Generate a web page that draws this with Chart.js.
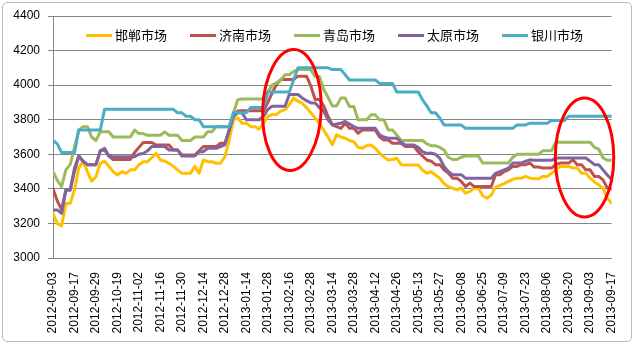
<!DOCTYPE html>
<html>
<head>
<meta charset="utf-8">
<script src="https://cdn.jsdelivr.net/npm/chart.js@4.4.0/dist/chart.umd.min.js"></script>
<style>
  html, body { margin: 0; padding: 0; background: #fff; }
  #wrap { position: relative; width: 640px; height: 346px; overflow: hidden; }
  #frame { position: absolute; left: 2px; top: 2px; width: 628px; height: 338px; border: 1px solid #b9b9b9; border-radius: 5px; }
  #chart { position: absolute; left: 0; top: 0; }
  #legend { position: absolute; left: 86px; top: 27px; display: flex; font: 13px/16px "Noto Sans CJK SC"; color: #000; }
  .item { display: flex; align-items: center; margin-right: 23px; }
  .swatch { width: 26px; height: 3px; margin-right: 3px; }
</style>
</head>
<body>
<div id="wrap">
  <div id="frame"></div>
  <canvas id="chart" width="640" height="346"></canvas>
  <div id="legend"></div>
</div>
<script>
// one label every 5 points (each point = 2 trading days)
const step = 5;
const tickLabels = [
  '2012-09-03', '2012-09-17', '2012-09-29', '2012-10-19', '2012-11-02', '2012-11-16',
  '2012-11-30', '2012-12-14', '2012-12-28', '2013-01-14', '2013-01-28', '2013-02-16',
  '2013-02-28', '2013-03-14', '2013-03-28', '2013-04-12', '2013-04-26', '2013-05-13',
  '2013-05-27', '2013-06-08', '2013-06-25', '2013-07-09', '2013-07-23', '2013-08-06',
  '2013-08-20', '2013-09-03', '2013-09-17'
];

const handan = [
  3258, 3200, 3185, 3316, 3316, 3393, 3520, 3560, 3500, 3445,
  3470, 3548, 3560, 3530, 3500, 3480, 3500, 3490, 3510, 3510,
  3540, 3557, 3557, 3580, 3605, 3567, 3560, 3548, 3530, 3510,
  3490, 3490, 3490, 3530, 3490, 3567, 3557, 3557, 3548, 3548,
  3586, 3680, 3800, 3810, 3780, 3780, 3760, 3760, 3745, 3780,
  3820, 3830, 3830, 3850, 3858, 3887, 3926, 3907, 3895, 3870,
  3840, 3810, 3780, 3740, 3700, 3655, 3712, 3700, 3693, 3680,
  3673, 3640, 3635, 3650, 3654, 3635, 3606, 3585, 3567, 3570,
  3577, 3540, 3538, 3538, 3538, 3538, 3509, 3490, 3500, 3480,
  3462, 3430, 3414, 3404, 3395, 3404, 3375, 3385, 3404, 3404,
  3360, 3346, 3365, 3410, 3420, 3430, 3443, 3455, 3462, 3462,
  3472, 3462, 3458, 3458, 3472, 3472, 3490, 3510, 3530, 3530,
  3530, 3520, 3520, 3490, 3490, 3462, 3440, 3423, 3404, 3346,
  3317
];
const jinan = [
  3400, 3330, 3280, 3393, 3393, 3520, 3590, 3560, 3540, 3540,
  3540, 3620, 3625, 3590, 3570, 3570, 3570, 3570, 3570, 3610,
  3640, 3668, 3668, 3668, 3654, 3654, 3654, 3654, 3625, 3625,
  3596, 3596, 3596, 3596, 3620, 3645, 3645, 3645, 3645, 3664,
  3664, 3740, 3830, 3850, 3852, 3852, 3852, 3852, 3852, 3852,
  3900, 3955, 4004, 4033, 4033, 4033, 4033, 4052, 4052, 4052,
  3995, 3917, 3917, 3880, 3820, 3770, 3760, 3750, 3780, 3750,
  3750, 3722, 3741, 3741, 3741, 3741, 3700, 3683, 3683, 3664,
  3664, 3664, 3645, 3645, 3645, 3615, 3590, 3567, 3560, 3540,
  3540, 3510, 3491, 3462, 3462, 3443, 3414, 3433, 3414, 3414,
  3414, 3414, 3414, 3482, 3482, 3500, 3510, 3530, 3530, 3540,
  3540, 3549, 3526, 3526, 3520, 3520, 3520, 3540, 3549, 3549,
  3549, 3568, 3540, 3540, 3510, 3510, 3472, 3472, 3452, 3404,
  3400
];
const qingdao = [
  3500, 3450, 3413, 3510, 3540, 3640, 3740, 3760, 3760, 3700,
  3680, 3730, 3730, 3730, 3700, 3700, 3700, 3700, 3700, 3740,
  3720, 3720, 3710, 3710, 3710, 3710, 3730, 3710, 3710, 3710,
  3680, 3680, 3680, 3700, 3700, 3700, 3730, 3730, 3760, 3760,
  3760, 3760, 3840, 3915, 3920, 3920, 3920, 3920, 3920, 3920,
  3960, 4000, 4013, 4030, 4060, 4060, 4080, 4090, 4090, 4090,
  4090, 4050, 4050, 3975, 3930, 3880, 3880, 3925, 3925, 3876,
  3876, 3800, 3800, 3800, 3828, 3828, 3800, 3800, 3741, 3741,
  3712, 3680, 3680, 3680, 3680, 3680, 3680, 3660, 3650, 3650,
  3640, 3625, 3583, 3570, 3570, 3583, 3590, 3590, 3590, 3590,
  3550, 3550, 3550, 3550, 3550, 3550, 3550, 3583, 3600, 3600,
  3600, 3600, 3600, 3600, 3620, 3620, 3620, 3670, 3670, 3670,
  3670, 3670, 3670, 3670, 3670, 3670, 3640, 3630, 3580, 3565,
  3565
];
const taiyuan = [
  3278, 3278, 3258, 3393, 3393, 3500, 3590, 3560, 3540, 3540,
  3540, 3620, 3635, 3590, 3586, 3586, 3586, 3586, 3586, 3586,
  3600, 3605, 3620, 3645, 3645, 3645, 3645, 3625, 3625, 3625,
  3590, 3590, 3590, 3590, 3615, 3615, 3635, 3635, 3635, 3645,
  3654, 3740, 3820, 3840, 3840, 3800, 3800, 3800, 3800, 3820,
  3860, 3878, 3878, 3878, 3878, 3946, 3946, 3946, 3926, 3910,
  3897, 3897, 3870, 3850, 3800, 3770, 3775, 3780, 3790, 3775,
  3760, 3750, 3750, 3750, 3750, 3750, 3712, 3700, 3693, 3693,
  3693, 3670, 3654, 3654, 3654, 3640, 3615, 3605, 3607, 3600,
  3578, 3530, 3500, 3482, 3482, 3482, 3462, 3462, 3462, 3462,
  3462, 3462, 3462, 3490, 3500, 3510, 3520, 3549, 3549, 3549,
  3560, 3568, 3565, 3565, 3565, 3565, 3565, 3578, 3578, 3578,
  3578, 3578, 3578, 3578, 3578, 3560, 3540, 3540, 3510, 3480,
  3455
];
const yinchuan = [
  3680, 3660, 3610, 3610, 3610, 3610, 3740, 3740, 3740, 3740,
  3740, 3740, 3860, 3860, 3860, 3860, 3860, 3860, 3860, 3860,
  3860, 3860, 3860, 3860, 3860, 3860, 3860, 3860, 3860, 3840,
  3840, 3820, 3820, 3800, 3800, 3760, 3760, 3760, 3760, 3760,
  3760, 3760, 3840, 3840, 3840, 3840, 3870, 3870, 3870, 3870,
  3960, 3960, 3960, 3960, 3960, 3960, 4030, 4100, 4100, 4100,
  4100, 4100, 4100, 4100, 4100, 4090, 4090, 4090, 4060, 4030,
  4030, 4030, 4030, 4030, 4030, 4030, 4010, 4010, 4010, 4010,
  3960, 3960, 3960, 3960, 3960, 3960, 3915, 3880, 3840, 3840,
  3810, 3770, 3770, 3770, 3770, 3770, 3750, 3750, 3750, 3750,
  3750, 3750, 3750, 3750, 3750, 3750, 3750, 3750, 3770, 3770,
  3770, 3780, 3780, 3780, 3780, 3780, 3795, 3795, 3795, 3795,
  3820, 3820, 3820, 3820, 3820, 3820, 3820, 3820, 3820, 3820,
  3820
];

const seriesNames = ['邯郸市场', '济南市场', '青岛市场', '太原市场', '银川市场'];
const seriesColors = ['#FFC000', '#C0504D', '#9BBB59', '#8064A2', '#4BACC6'];
const seriesValues = [handan, jinan, qingdao, taiyuan, yinchuan];

// red rings around the two highlighted stretches (index, price, half width, half height)
const rings = [
  { at: 55.6, value: 3856, dx: 6.8, dy: 350, tilt: 0.04 },
  { at: 123.7, value: 3581, dx: 6.8, dy: 344, tilt: 0 }
];

const ringPlugin = {
  id: 'rings',
  afterDatasetsDraw(chart) {
    const { ctx, scales: { x, y } } = chart;
    ctx.save();
    ctx.strokeStyle = '#FF0000';
    ctx.lineWidth = 3;
    rings.forEach((r) => {
      const cx = x.getPixelForValue(r.at);
      const cy = y.getPixelForValue(r.value);
      const rx = x.getPixelForValue(r.at + r.dx) - cx;
      const ry = cy - y.getPixelForValue(r.value + r.dy);
      ctx.beginPath();
      ctx.ellipse(cx, cy, rx, ry, r.tilt, 0, Math.PI * 2);
      ctx.stroke();
    });
    ctx.restore();
  }
};

const datasets = seriesValues.map((vals, k) => ({
  label: seriesNames[k],
  data: vals.map((v, i) => ({ x: i, y: v })),
  borderColor: seriesColors[k],
  backgroundColor: seriesColors[k],
  borderWidth: 3,
  pointRadius: 0,
  fill: false,
  order: seriesValues.length - 1 - k,
}));

const axisFont = { family: '"Liberation Sans", Arial, sans-serif', size: 12 };

new Chart(document.getElementById('chart'), {
  type: 'line',
  data: { datasets },
  options: {
    responsive: false,
    animation: false,
    devicePixelRatio: 1,
    layout: { padding: { top: 16, right: 12, left: 0, bottom: 0 } },
    plugins: { legend: { display: false }, tooltip: { enabled: false } },
    elements: { line: { tension: 0, borderJoinStyle: 'round', borderCapStyle: 'round' } },
    scales: {
      x: {
        type: 'linear',
        min: 0,
        max: (tickLabels.length - 1) * step,
        afterFit: (s) => { s.height = 88; },
        grid: { display: false, drawTicks: false },
        border: { color: '#868686' },
        ticks: {
          stepSize: step,
          autoSkip: false,
          maxRotation: 90,
          minRotation: 90,
          padding: 14,
          color: '#000',
          font: axisFont,
          callback: (v) => tickLabels[v / step],
        },
      },
      y: {
        min: 3000,
        max: 4400,
        afterFit: (s) => { s.width = 53; },
        grid: { color: '#868686', tickLength: 5 },
        border: { color: '#868686' },
        ticks: { stepSize: 200, padding: 8, color: '#000', font: axisFont, callback: (v) => String(v) },
      },
    },
  },
  plugins: [ringPlugin],
});

// legend sits inside the plot, above the lines
const legend = document.getElementById('legend');
seriesNames.forEach((name, k) => {
  const item = document.createElement('div');
  item.className = 'item';
  item.innerHTML = '<span class="swatch" style="background:' + seriesColors[k] + '"></span><span>' + name + '</span>';
  legend.appendChild(item);
});
</script>
</body>
</html>
